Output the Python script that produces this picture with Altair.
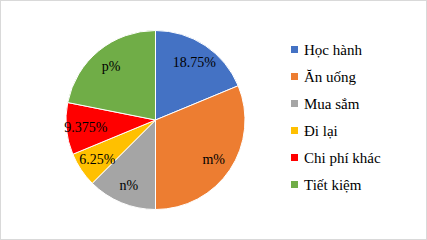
import altair as alt
import pandas as pd

categories = ["Học hành", "Ăn uống", "Mua sắm", "Đi lại", "Chi phí khác", "Tiết kiệm"]
values = [18.75, 31.25, 12.5, 6.25, 9.375, 21.875]
labels = ["18.75%", "m%", "n%", "6.25%", "9.375%", "p%"]
colors = ["#4472C4", "#ED7D31", "#A5A5A5", "#FFC000", "#FF0000", "#70AD47"]

df = pd.DataFrame({
    "cat": categories,
    "val": values,
    "label": labels,
    "order": list(range(len(categories))),
})

base = alt.Chart(df).encode(
    theta=alt.Theta("val:Q", stack=True),
    order=alt.Order("order:Q"),
)

pie = base.mark_arc(stroke="white", strokeWidth=1).encode(
    x=alt.value(155.5),
    y=alt.value(120),
    radius=alt.value(89.5),
    color=alt.Color(
        "cat:N",
        scale=alt.Scale(domain=categories, range=colors),
        sort=categories,
        legend=alt.Legend(
            title=None,
            orient="none",
            legendX=287,
            legendY=42,
            symbolType="square",
            symbolSize=49,
            symbolStrokeWidth=0,
            labelFont="Liberation Serif",
            labelFontSize=15,
            labelColor="black",
            rowPadding=11,
            labelOffset=2,
        ),
    ),
)

text = base.mark_text(font="Liberation Serif", fontSize=14, color="black").encode(
    x=alt.value(155.5),
    y=alt.value(121),
    radius=alt.value(70),
    text="label:N",
)

chart = (pie + text).properties(
    width=427, height=240, padding=0, autosize="none"
).configure_view(stroke="#d9d9d9", strokeWidth=2).configure_legend(
    labelFont="Liberation Serif"
)

chart.save("out.html", embed_options={"renderer": "svg", "actions": False})
